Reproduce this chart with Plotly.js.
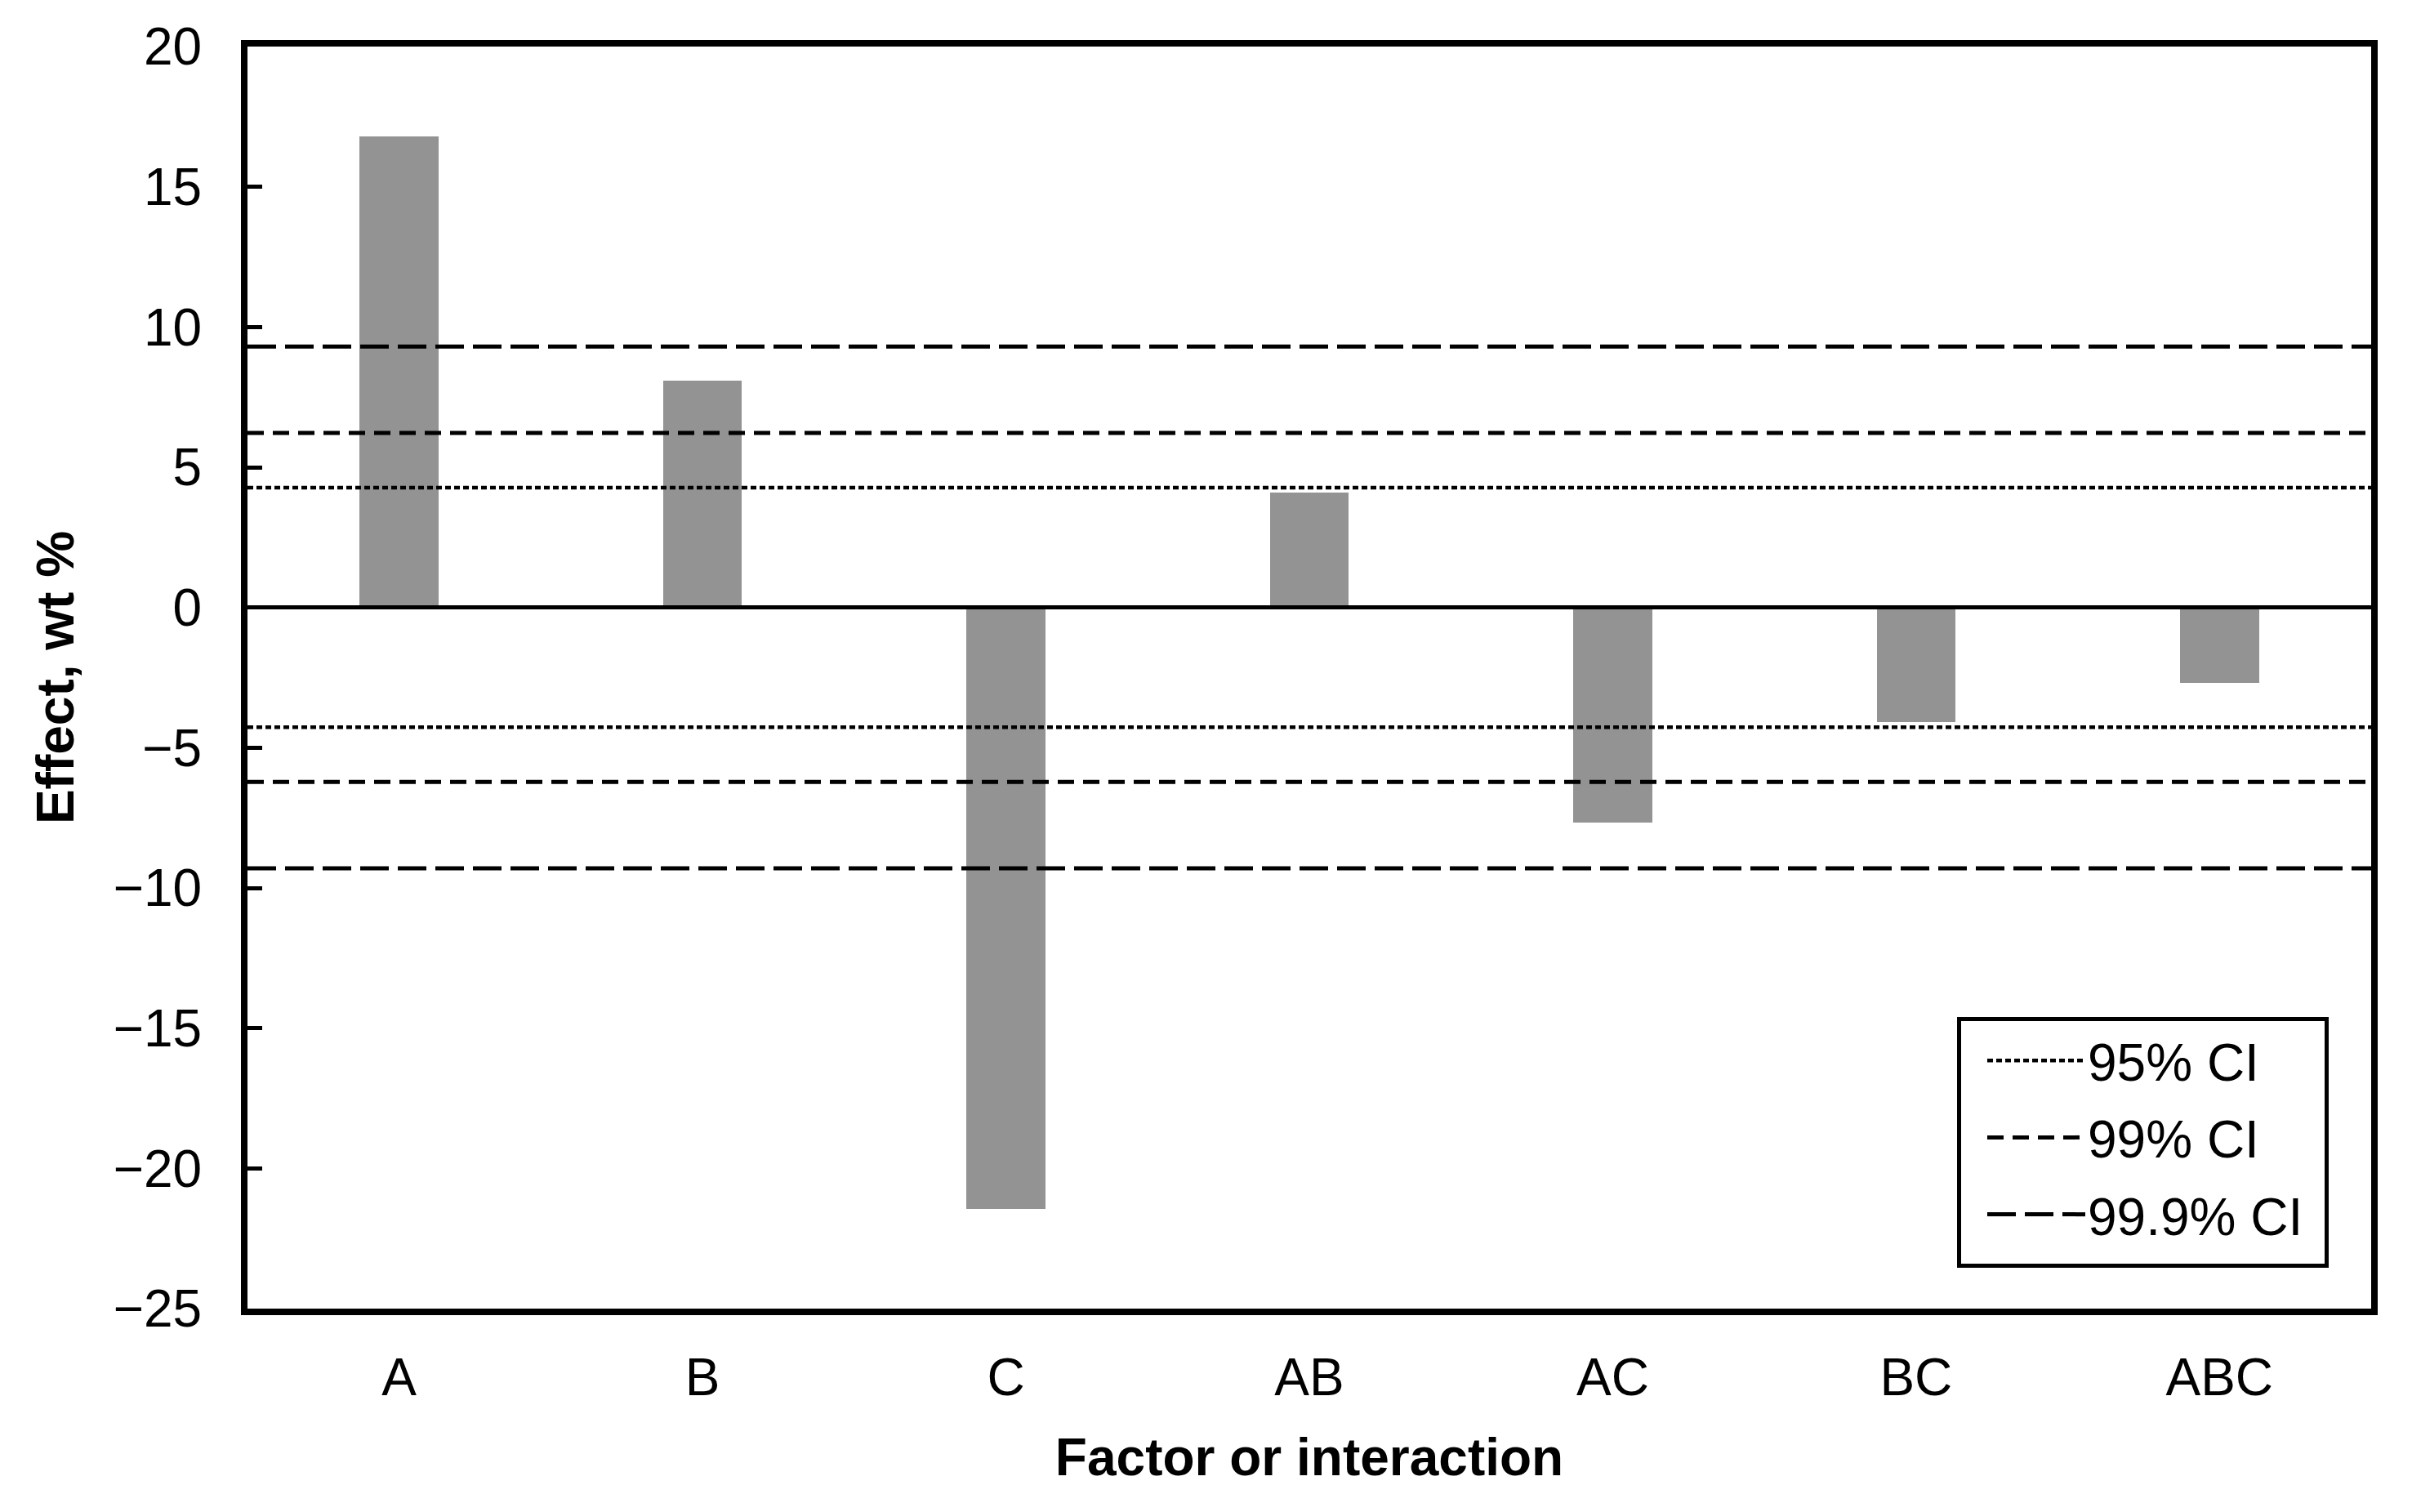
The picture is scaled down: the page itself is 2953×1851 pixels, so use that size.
<!DOCTYPE html>
<html>
<head>
<meta charset="utf-8">
<script src="https://cdn.plot.ly/plotly-3.0.1.min.js"></script>
<style>
  html, body { margin: 0; padding: 0; background: #ffffff; }
  #chart { width: 2953px; height: 1851px; }
</style>
</head>
<body>
<div id="chart"></div>
<script>
// ---- data ----
const categories = ['A', 'B', 'C', 'AB', 'AC', 'BC', 'ABC'];
const effects = [16.8, 8.1, -21.45, 4.11, -7.67, -4.08, -2.69];
const ciLabels = ['95% CI', '99% CI', '99.9% CI'];
const ciValues = [4.27, 6.22, 9.3];
const yTickValues = [20, 15, 10, 5, 0, -5, -10, -15, -20, -25];

// ---- styles ----
const FONT = 'Liberation Sans, Arial, Helvetica, sans-serif';
const FS = 64;
const ciDashes = ['7px,4px', '20px,11px', '35px,11px'];
const ciWidths = [4.5, 5, 5];

const traces = [];
traces.push({
  type: 'bar',
  x: categories,
  y: effects,
  width: 0.26,
  marker: { color: '#939393', line: { width: 0 } },
  showlegend: false,
  hoverinfo: 'skip'
});
ciLabels.forEach((name, i) => {
  const v = ciValues[i];
  traces.push({
    type: 'scatter',
    mode: 'lines',
    name: name,
    legendgroup: 'g' + i,
    xaxis: 'x2',
    yaxis: 'y',
    x: [0, 1, null, 0, 1],
    y: [v, v, null, -v, -v],
    line: { color: '#000000', width: ciWidths[i], dash: ciDashes[i] },
    hoverinfo: 'skip'
  });
});

const layout = {
  width: 2953,
  height: 1851,
  paper_bgcolor: '#ffffff',
  plot_bgcolor: '#ffffff',
  margin: { l: 303, r: 50, t: 57, b: 249, pad: 0 },
  font: { family: FONT, size: FS, color: '#000000' },
  showlegend: true,
  bargap: 0,
  xaxis: {
    type: 'category',
    range: [-0.5, 6.5],
    showline: true, mirror: true, linecolor: '#000000', linewidth: 8,
    showgrid: false, zeroline: false, ticks: '',
    ticklabelstandoff: 21,
    tickfont: { family: FONT, size: FS, color: '#000000' },
    title: { text: 'Factor or interaction', standoff: 43,
             font: { family: FONT, size: FS, color: '#000000', weight: 'bold' } }
  },
  xaxis2: {
    overlaying: 'x', range: [0, 1], visible: false, fixedrange: true
  },
  yaxis: {
    range: [-25, 20],
    tickmode: 'array',
    tickvals: yTickValues,
    showline: true, mirror: true, linecolor: '#000000', linewidth: 8,
    showgrid: false,
    zeroline: true, zerolinecolor: '#000000', zerolinewidth: 5,
    zerolinelayer: 'above traces',
    ticks: 'inside', ticklen: 18, tickwidth: 5, tickcolor: '#000000',
    ticklabelstandoff: 35,
    tickfont: { family: FONT, size: FS, color: '#000000' },
    title: { text: 'Effect, wt %', standoff: 30,
             font: { family: FONT, size: FS, color: '#000000', weight: 'bold' } }
  },
  legend: {
    x: 0.805, xanchor: 'left',
    y: 0.231, yanchor: 'top',
    bgcolor: '#ffffff', bordercolor: '#000000', borderwidth: 5,
    font: { family: FONT, size: FS, color: '#000000' },
    itemwidth: 145,
    tracegroupgap: 8,
    traceorder: 'grouped'
  }
};

Plotly.newPlot('chart', traces, layout, { displayModeBar: false, staticPlot: true }).then(gd => {
  // lengthen the legend line samples to match the reference
  gd.querySelectorAll('.legend .legendlines path').forEach(p => {
    p.setAttribute('d', 'M32,0h120');
  });
  // widen / heighten the legend frame a little to match the reference padding
  const bg = gd.querySelector('.legend rect.bg');
  if (bg) {
    bg.setAttribute('width', '450');
    const h = parseFloat(bg.getAttribute('height')) || 0;
    bg.setAttribute('height', String(h + 12));
  }
});
</script>
</body>
</html>
